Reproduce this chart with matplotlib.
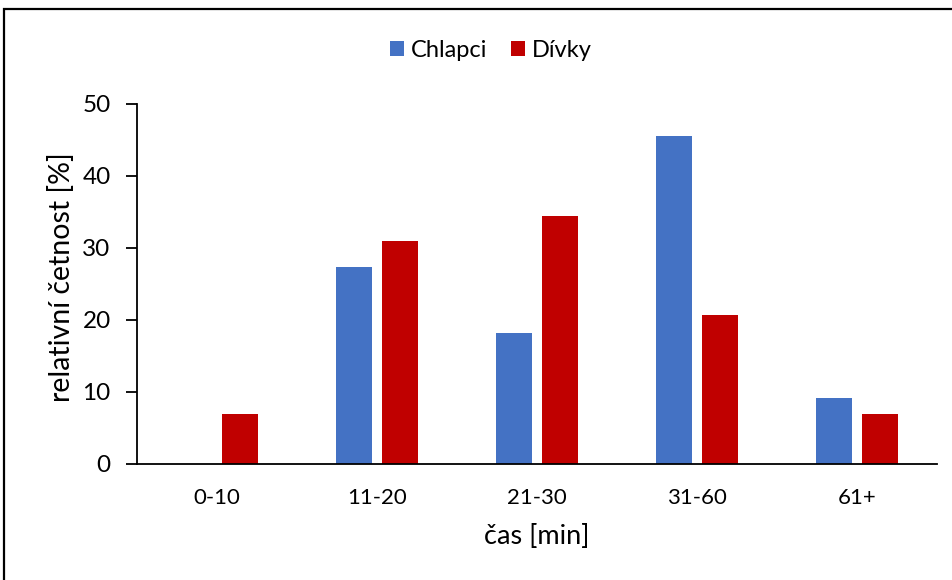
import matplotlib.pyplot as plt
import numpy as np
from matplotlib.patches import Rectangle

plt.rcParams['font.family'] = ['Lato', 'DejaVu Sans']

kategorie = ['0-10', '11-20', '21-30', '31-60', '61+']
chlapci = [0.0, 27.3, 18.2, 45.5, 9.1]
divky = [6.9, 31.0, 34.5, 20.7, 6.9]

fig = plt.figure(figsize=(9.53, 5.8), dpi=100)
ax = fig.add_axes([0.1438, 0.2, 0.8394, 0.6207])

x = np.arange(len(kategorie))
w = 0.225
ax.bar(x - 0.144, chlapci, w, color='#4472C4', label='Chlapci')
ax.bar(x + 0.144, divky, w, color='#C00000', label='Dívky')

ax.set_xlim(-0.5, 4.5)
ax.set_ylim(0, 50)
ax.set_yticks(range(0, 51, 10))
ax.set_xticks(x)
ax.set_xticklabels(kategorie, fontsize=16)
ax.tick_params(axis='y', labelsize=17.5, length=8, width=1.3, pad=11)
ax.tick_params(axis='x', length=0, pad=17)
for s in ['top', 'right']:
    ax.spines[s].set_visible(False)
for s in ['left', 'bottom']:
    ax.spines[s].set_linewidth(1.3)

ax.set_ylabel('relativní četnost [%]', fontsize=20.5)
ax.yaxis.set_label_coords(-0.077, 0.52)
ax.set_xlabel('čas [min]', fontsize=19.5, labelpad=12)

fig.legend(loc='center', bbox_to_anchor=(0.515, 0.913), ncol=2, frameon=False,
           fontsize=17, handlelength=0.6, handleheight=0.6, handletextpad=0.3,
           columnspacing=1.0)

# rámeček kolem grafu
fig.patches.append(Rectangle((4 / 953, -0.05), 1.1, 1 - 9 / 580 + 0.05,
                             transform=fig.transFigure, fill=False,
                             edgecolor='black', linewidth=1.6))

fig.savefig('out.png', dpi=100)
